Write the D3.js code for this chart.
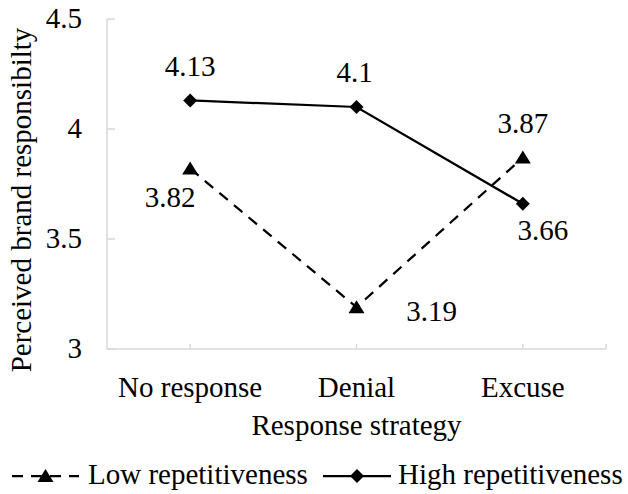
<!DOCTYPE html>
<html>
<head>
<meta charset="utf-8">
<script src="https://cdn.jsdelivr.net/npm/d3@7"></script>
<style>
  html, body { margin: 0; padding: 0; background: #fff; }
  svg { display: block; }
</style>
</head>
<body>
<div id="chart"></div>
<script>
// data
const categories = ['No response', 'Denial', 'Excuse'];
const lowRepetitiveness = [3.82, 3.19, 3.87];
const highRepetitiveness = [4.13, 4.1, 3.66];
const yTicks = [3, 3.5, 4, 4.5];

const series = [
  { key: 'Low repetitiveness', values: lowRepetitiveness, symbol: 'triangle', dashed: true },
  { key: 'High repetitiveness', values: highRepetitiveness, symbol: 'diamond', dashed: false },
];

// label placement relative to the marker (dx, dy to baseline)
const labelOffsets = {
  'Low repetitiveness': [[-20, 38], [75, 14], [0, -25]],
  'High repetitiveness': [[0, -24], [-2, -25], [20, 36]],
};

// dimension stuff
const W = 628;
const H = 494;
const plotLeft = 107;
const plotRight = 606;
const plotTop = 19;
const plotBottom = 349;
const AXIS_COLOR = '#d9d9d9';
const FONT = "'Liberation Serif'";
const DASH = '11,8';

const scaleX = d3.scaleBand().domain(categories).range([plotLeft, plotRight]).padding(0);
const scaleY = d3.scaleLinear().domain([3, 4.5]).range([plotBottom, plotTop]);
const cx = c => scaleX(c) + scaleX.bandwidth() / 2;

const $svg = d3.select('#chart').append('svg')
  .attr('width', W)
  .attr('height', H);

// every text gets the serif face directly
function addText($parent) {
  return $parent.append('text')
    .style('font-family', FONT)
    .style('font-size', '29px')
    .attr('fill', '#000');
}

// y axis
const $yAxis = $svg.append('g').attr('class', 'axis axis--y');
$yAxis.append('line')
  .attr('x1', plotLeft).attr('x2', plotLeft)
  .attr('y1', scaleY(4.5)).attr('y2', plotBottom)
  .attr('stroke', AXIS_COLOR).attr('stroke-width', 1.5);
$yAxis.selectAll('.tick').data(yTicks).join('line')
  .attr('class', 'tick')
  .attr('x1', plotLeft).attr('x2', plotLeft + 8)
  .attr('y1', d => scaleY(d)).attr('y2', d => scaleY(d))
  .attr('stroke', AXIS_COLOR).attr('stroke-width', 1.5);
yTicks.forEach(d => {
  addText($yAxis)
    .attr('x', 82)
    .attr('y', scaleY(d) + 9)
    .attr('text-anchor', 'end')
    .text(d3.format('')(d));
});

// x axis
const $xAxis = $svg.append('g').attr('class', 'axis axis--x');
$xAxis.append('line')
  .attr('x1', plotLeft).attr('x2', plotRight)
  .attr('y1', plotBottom).attr('y2', plotBottom)
  .attr('stroke', AXIS_COLOR).attr('stroke-width', 1.5);
const xTickPos = categories.map(cx).concat([plotRight]);
$xAxis.selectAll('.tick').data(xTickPos).join('line')
  .attr('class', 'tick')
  .attr('x1', d => d).attr('x2', d => d)
  .attr('y1', plotBottom).attr('y2', plotBottom - 5)
  .attr('stroke', AXIS_COLOR).attr('stroke-width', 1.5);
categories.forEach(c => {
  addText($xAxis)
    .attr('x', cx(c))
    .attr('y', 397)
    .attr('text-anchor', 'middle')
    .text(c);
});

// axis titles
addText($svg)
  .attr('x', (plotLeft + plotRight) / 2)
  .attr('y', 435)
  .attr('text-anchor', 'middle')
  .text('Response strategy');

addText($svg)
  .attr('transform', 'translate(31, 200) rotate(-90)')
  .attr('text-anchor', 'middle')
  .text('Perceived brand responsibilty');

// series
const generateLine = d3.line()
  .x((d, i) => cx(categories[i]))
  .y(d => scaleY(d));

const symbolPath = {
  triangle: 'M0,-7L8,6L-8,6Z',
  diamond: 'M0,-7L7,0L0,7L-7,0Z',
};

const $vis = $svg.append('g').attr('class', 'g-vis');

series.forEach(s => {
  const $s = $vis.append('g').attr('class', 'series');
  $s.append('path')
    .attr('d', generateLine(s.values))
    .attr('fill', 'none')
    .attr('stroke', '#000')
    .attr('stroke-width', 2.25)
    .attr('stroke-dasharray', s.dashed ? DASH : null);

  $s.selectAll('.marker').data(s.values).join('path')
    .attr('class', 'marker')
    .attr('d', symbolPath[s.symbol])
    .attr('transform', (v, i) => `translate(${cx(categories[i])}, ${scaleY(v)})`)
    .attr('fill', '#000');

  s.values.forEach((v, i) => {
    const [dx, dy] = labelOffsets[s.key][i];
    addText($s)
      .attr('x', cx(categories[i]) + dx)
      .attr('y', scaleY(v) + dy)
      .attr('text-anchor', 'middle')
      .text(v);
  });
});

// legend
const legendY = 476;
const legendItems = [
  { s: series[0], x1: 12, x2: 79, textX: 88 },
  { s: series[1], x1: 323, x2: 391, textX: 398 },
];
const $legend = $svg.append('g').attr('class', 'legend');
legendItems.forEach(item => {
  const $item = $legend.append('g');
  $item.append('line')
    .attr('x1', item.x1).attr('x2', item.x2)
    .attr('y1', legendY).attr('y2', legendY)
    .attr('stroke', '#000').attr('stroke-width', 2.25)
    .attr('stroke-dasharray', item.s.dashed ? DASH : null);
  $item.append('path')
    .attr('d', symbolPath[item.s.symbol])
    .attr('transform', `translate(${(item.x1 + item.x2) / 2}, ${legendY})`)
    .attr('fill', '#000');
  addText($item)
    .attr('x', item.textX)
    .attr('y', legendY + 8)
    .text(item.s.key);
});
</script>
</body>
</html>
